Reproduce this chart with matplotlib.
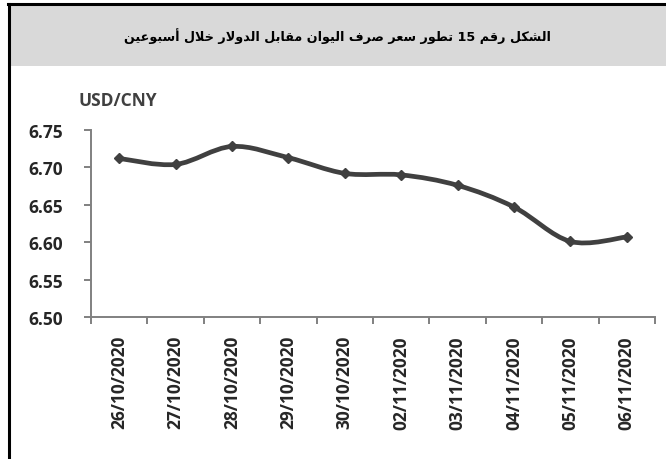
import re
import numpy as np
import matplotlib
matplotlib.use("Agg")
import matplotlib.pyplot as plt
from matplotlib.path import Path
from matplotlib.patches import PathPatch, Rectangle
from matplotlib.lines import Line2D

# data
dates = ['26/10/2020', '27/10/2020', '28/10/2020', '29/10/2020', '30/10/2020',
         '02/11/2020', '03/11/2020', '04/11/2020', '05/11/2020', '06/11/2020']
usd_cny = [6.712, 6.704, 6.728, 6.713, 6.692, 6.690, 6.676, 6.647, 6.601, 6.607]
y_ticks = [6.50, 6.55, 6.60, 6.65, 6.70, 6.75]
title_ar = 'الشكل رقم 15 تطور سعر صرف اليوان مقابل الدولار خلال أسبوعين'
unit_label = 'USD/CNY'

# --- minimal Arabic shaping (matplotlib has no complex text layout) ---
FORMS = {  # isolated, final, initial, medial
    'ا': (0xFE8D, 0xFE8E, None, None), 'أ': (0xFE83, 0xFE84, None, None),
    'ب': (0xFE8F, 0xFE90, 0xFE91, 0xFE92), 'ت': (0xFE95, 0xFE96, 0xFE97, 0xFE98),
    'خ': (0xFEA5, 0xFEA6, 0xFEA7, 0xFEA8), 'د': (0xFEA9, 0xFEAA, None, None),
    'ر': (0xFEAD, 0xFEAE, None, None), 'س': (0xFEB1, 0xFEB2, 0xFEB3, 0xFEB4),
    'ش': (0xFEB5, 0xFEB6, 0xFEB7, 0xFEB8), 'ص': (0xFEB9, 0xFEBA, 0xFEBB, 0xFEBC),
    'ط': (0xFEC1, 0xFEC2, 0xFEC3, 0xFEC4), 'ع': (0xFEC9, 0xFECA, 0xFECB, 0xFECC),
    'ف': (0xFED1, 0xFED2, 0xFED3, 0xFED4), 'ق': (0xFED5, 0xFED6, 0xFED7, 0xFED8),
    'ك': (0xFED9, 0xFEDA, 0xFEDB, 0xFEDC), 'ل': (0xFEDD, 0xFEDE, 0xFEDF, 0xFEE0),
    'م': (0xFEE1, 0xFEE2, 0xFEE3, 0xFEE4), 'ن': (0xFEE5, 0xFEE6, 0xFEE7, 0xFEE8),
    'و': (0xFEED, 0xFEEE, None, None), 'ي': (0xFEF1, 0xFEF2, 0xFEF3, 0xFEF4),
}
LAM_ALEF = {'ا': (0xFEFB, 0xFEFC), 'أ': (0xFEF7, 0xFEF8)}


def dual(c):
    return c in FORMS and FORMS[c][2] is not None


def shape(text):
    out, i = [], 0
    while i < len(text):
        c = text[i]
        prev_join = i > 0 and dual(text[i - 1])
        if c == 'ل' and i + 1 < len(text) and text[i + 1] in LAM_ALEF:
            out.append(chr(LAM_ALEF[text[i + 1]][1 if prev_join else 0]))
            i += 2
            continue
        if c not in FORMS:
            out.append(c)
            i += 1
            continue
        next_join = dual(c) and i + 1 < len(text) and text[i + 1] in FORMS
        iso, fin, ini, med = FORMS[c]
        if prev_join and next_join:
            g = med
        elif prev_join:
            g = fin
        elif next_join:
            g = ini
        else:
            g = iso
        out.append(chr(g))
        i += 1
    runs = re.findall(r'\d+|\D+', ''.join(out))
    return ''.join(r if r.isdigit() else r[::-1] for r in reversed(runs))


plt.rcParams['font.family'] = ['Open Sans', 'DejaVu Sans']

fig = plt.figure(figsize=(6.66, 4.6), dpi=100)

# frame and title band
fig.patches.append(Rectangle((10 / 666, 1 - 67 / 460), 1, 61 / 460, transform=fig.transFigure,
                             facecolor='#d9d9d9', edgecolor='none', zorder=0))
fig.lines.append(Line2D([8 / 666, 1], [1 - 5 / 460] * 2, transform=fig.transFigure,
                        color='black', lw=2.2))
fig.lines.append(Line2D([9 / 666] * 2, [0, 1 - 5 / 460], transform=fig.transFigure,
                        color='black', lw=2.2))
fig.text(337 / 666, 1 - 36 / 460, shape(title_ar), ha='center', va='center',
         fontsize=9.2, fontweight='bold', family=['DejaVu Sans'])

ax = fig.add_axes([91 / 666, 1 - 318 / 460, 564 / 666, 187 / 460])
x = np.arange(len(dates))
y = np.array(usd_cny)

# smoothed line (Catmull-Rom through the points, as Excel draws it)
p = np.column_stack([x, y])
pe = np.vstack([p[0], p, p[-1]])
verts, codes = [p[0]], [Path.MOVETO]
for k in range(len(p) - 1):
    p0, p1, p2, p3 = pe[k], pe[k + 1], pe[k + 2], pe[k + 3]
    verts += [p1 + (p2 - p0) / 6, p2 - (p3 - p1) / 6, p2]
    codes += [Path.CURVE4] * 3
ax.add_patch(PathPatch(Path(verts, codes), facecolor='none', edgecolor='#404040',
                       lw=3.4, capstyle='round', joinstyle='round', zorder=3))
ax.plot(x, y, ls='none', marker='D', ms=5, color='#404040', zorder=4)

ax.set_xlim(-0.5, len(dates) - 0.5)
ax.set_ylim(6.50, 6.75)
ax.set_yticks(y_ticks)
ax.set_yticklabels([f'{v:.2f}' for v in y_ticks])
ax.set_xticks(x)
ax.set_xticklabels(dates, rotation=90)
ax.set_xticks(np.arange(len(dates) + 1) - 0.5, minor=True)

for s in ['top', 'right']:
    ax.spines[s].set_visible(False)
for s in ['left', 'bottom']:
    ax.spines[s].set_color('#808080')
    ax.spines[s].set_linewidth(1.4)
ax.tick_params(axis='y', length=5, width=1.4, color='#808080', pad=15,
               labelsize=12.5, labelcolor='#262626')
ax.tick_params(axis='x', which='major', length=0, pad=13, labelsize=12.5,
               labelcolor='#262626')
ax.tick_params(axis='x', which='minor', length=5, width=1.4, color='#808080')
for lab in ax.get_xticklabels() + ax.get_yticklabels():
    lab.set_fontweight('bold')

fig.text(78 / 666, 1 - 101 / 460, unit_label, ha='left', va='center', fontsize=12.5,
         fontweight='bold', color='#404040')

fig.savefig('out.png', dpi=100)
